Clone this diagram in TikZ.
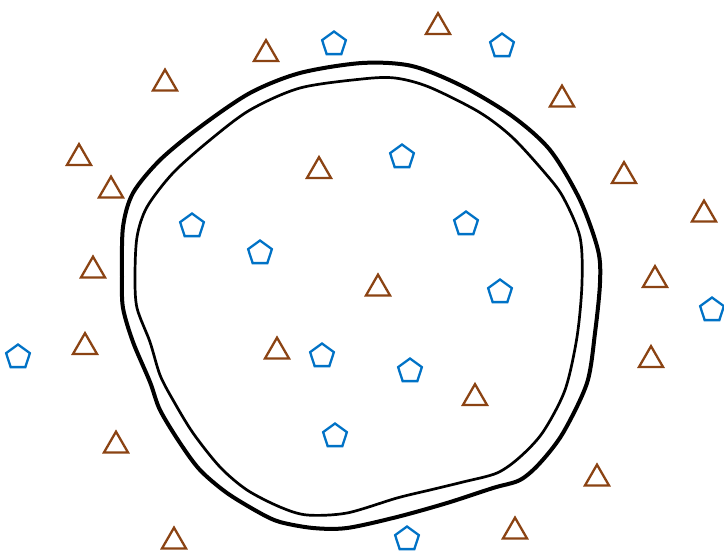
\documentclass[tikz,border=0pt]{standalone}
\usetikzlibrary{shapes.geometric}
\definecolor{tribrown}{RGB}{139,67,19}
\definecolor{pentblue}{RGB}{0,114,198}
\tikzset{
  tri/.style={regular polygon, regular polygon sides=3, minimum size=27.7pt, inner sep=0pt, draw=tribrown, line width=2.3pt, line join=miter},
  pent/.style={regular polygon, regular polygon sides=5, minimum size=25pt, inner sep=0pt, draw=pentblue, line width=2.3pt, line join=miter},
  outerline/.style={line width=4pt, black, line join=round},
  innerline/.style={line width=2.7pt, black, line join=round}
}
\begin{document}
\begin{tikzpicture}[x=1pt,y=-1pt]
\useasboundingbox (0,0) rectangle (724,555);
% curves
\draw[outerline] plot[smooth cycle, tension=0.5] coordinates {
(362,63) (412,66) (462,86) (512,116) (550,150) (580,200) (598,250) (600,283)
(595,333) (587,383) (563,433) (540,463) (520,480) (493,488) (447,503) (397,517)
(347,528) (313,528) (280,522) (260,513) (227,493) (200,470) (180,443) (160,410)
(150,382) (133,342) (123,308) (122,277) (123,227) (133,193) (160,160) (200,127)
(250,93) (300,73)};
\draw[innerline] plot[smooth cycle, tension=0.5] coordinates {
(362,79) (395,78) (429,87) (479,112) (512,137) (545,173) (563,197) (580,237)
(582,283) (577,337) (565,390) (543,432) (520,457) (497,473) (463,482) (430,490)
(397,498) (347,513) (307,515) (280,507) (247,490) (220,467) (193,433) (173,400)
(160,375) (150,342) (137,308) (135,277) (137,237) (147,207) (173,173) (210,140)
(250,110) (300,88)};
% triangles (centre = box centre + 3.5 down)
\node[tri] (t1) at (266,54) {};
\node[tri] (t2) at (165,83.5) {};
\node[tri] (t3) at (438,27) {};
\node[tri] (t4) at (562,99.5) {};
\node[tri] (t5) at (79,158) {};
\node[tri] (t6) at (111,190.5) {};
\node[tri] (t7) at (319,171) {};
\node[tri] (t8) at (624,176) {};
\node[tri] (t9) at (704,214.5) {};
\node[tri] (t10) at (93,270.5) {};
\node[tri] (t11) at (655,280) {};
\node[tri] (t12) at (378,288.5) {};
\node[tri] (t13) at (85,347) {};
\node[tri] (t14) at (277,351.5) {};
\node[tri] (t15) at (651,360) {};
\node[tri] (t16) at (475,398) {};
\node[tri] (t17) at (116,445.5) {};
\node[tri] (t18) at (597,478.5) {};
\node[tri] (t19) at (174,541.5) {};
\node[tri] (t20) at (515,531.5) {};
% pentagons (centre = box centre + 1.2 down)
\node[pent] (p1) at (334,44) {};
\node[pent] (p2) at (502,46) {};
\node[pent] (p3) at (402,157) {};
\node[pent] (p4) at (192,226) {};
\node[pent] (p5) at (260,253) {};
\node[pent] (p6) at (466,224) {};
\node[pent] (p7) at (500,292) {};
\node[pent] (p8) at (712,310) {};
\node[pent] (p9) at (18,357) {};
\node[pent] (p10) at (322,356) {};
\node[pent] (p11) at (410,371) {};
\node[pent] (p12) at (335,436) {};
\node[pent] (p13) at (407,539) {};
\end{tikzpicture}
\end{document}
